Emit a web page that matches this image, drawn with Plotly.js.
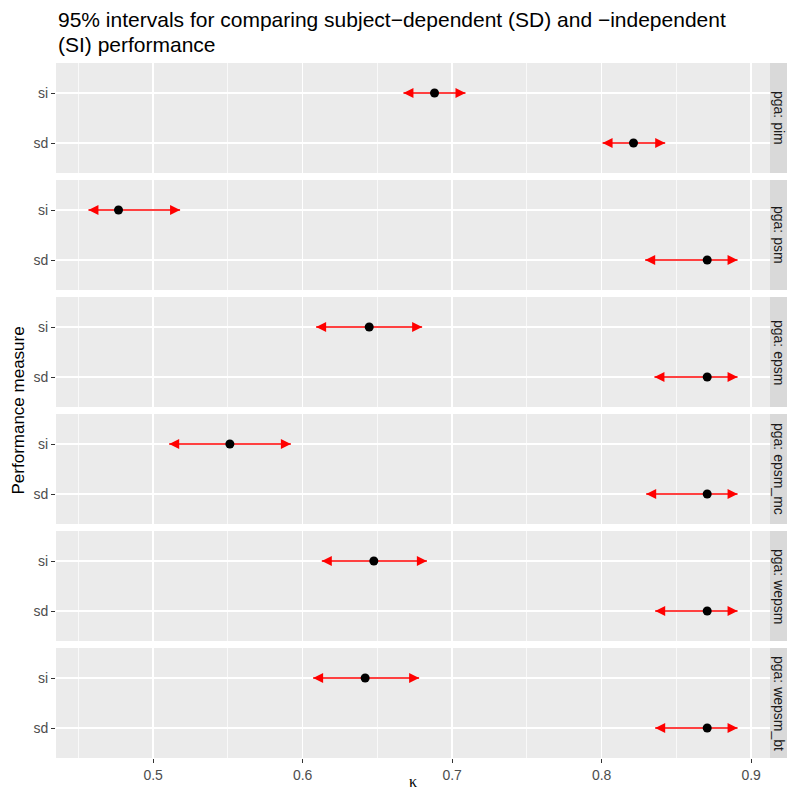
<!DOCTYPE html>
<html>
<head>
<meta charset="utf-8">
<script src="https://cdn.plot.ly/plotly-3.0.1.min.js"></script>
<style>html,body{margin:0;padding:0;background:#fff;}#chart{width:787px;height:793px;}</style>
</head>
<body>
<div id="chart"></div>
<script>
// ---- data ----
const panels = ['pim', 'psm', 'epsm', 'epsm_mc', 'wepsm', 'wepsm_bt'];
const measures = ['sd', 'si'];           // bottom to top within a panel
const siEst  = [0.6882, 0.4768, 0.6445, 0.5513, 0.6476, 0.6418];
const siLow  = [0.6674, 0.4567, 0.6090, 0.5107, 0.6128, 0.6070];
const siHigh = [0.7089, 0.5180, 0.6799, 0.5921, 0.6831, 0.6779];
const sdEst  = [0.8213, 0.8706, 0.8706, 0.8706, 0.8706, 0.8706];
const sdLow  = [0.8006, 0.8291, 0.8353, 0.8298, 0.8358, 0.8358];
const sdHigh = [0.8425, 0.8909, 0.8909, 0.8909, 0.8909, 0.8909];
const xTicks = [0.5, 0.6, 0.7, 0.8, 0.9];
const xTickLabels = ['0.5', '0.6', '0.7', '0.8', '0.9'];
const titleLines = ['95% intervals for comparing subject\u2212dependent (SD) and \u2212independent', '(SI) performance'];

// ---- layout constants ----
const W = 787, H = 793;
const M = {l: 56, r: 17, t: 63, b: 35};
const plotW = W - M.l - M.r, plotH = H - M.t - M.b;
const gap = 7;
const panelH = (plotH - gap * (panels.length - 1)) / panels.length;
const allLow = siLow.concat(sdLow), allHigh = siHigh.concat(sdHigh);
const dmin = Math.min(...allLow), dmax = Math.max(...allHigh);
const pad = (dmax - dmin) * 0.05;
const xRange = [dmin - pad, dmax + pad];
const FONT = 'Liberation Sans, Arial, sans-serif';

const traces = [];
const layout = {
  width: W, height: H,
  margin: M,
  paper_bgcolor: '#FFFFFF',
  plot_bgcolor: '#EBEBEB',
  showlegend: false,
  font: {family: FONT, color: '#4D4D4D', size: 14},
  shapes: [],
  annotations: []
};

panels.forEach((p, i) => {
  const n = i + 1;
  const xa = n === 1 ? 'x' : 'x' + n;
  const ya = n === 1 ? 'y' : 'y' + n;
  const xKey = n === 1 ? 'xaxis' : 'xaxis' + n;
  const yKey = n === 1 ? 'yaxis' : 'yaxis' + n;
  const top = plotH - i * (panelH + gap);
  const bot = top - panelH;
  const isBottom = i === panels.length - 1;

  layout[xKey] = {
    range: xRange, anchor: ya,
    tickvals: xTicks, ticktext: xTickLabels,
    showticklabels: isBottom,
    ticks: isBottom ? 'outside' : '', ticklen: 4, tickwidth: 1, tickcolor: '#333333',
    showgrid: true, gridcolor: '#FFFFFF', gridwidth: 1.4,
    minor: {dtick: 0.05, tick0: 0.45, showgrid: true, gridcolor: '#FFFFFF', gridwidth: 0.7, ticks: ''},
    zeroline: false, showline: false,
    tickfont: {size: 14, color: '#4D4D4D'},
    fixedrange: true
  };
  if (n !== 1) layout[xKey].matches = 'x';
  layout[yKey] = {
    domain: [bot / plotH, top / plotH],
    anchor: xa,
    type: 'category',
    categoryorder: 'array', categoryarray: measures,
    range: [-0.6, measures.length - 1 + 0.6],
    ticks: 'outside', ticklen: 4, tickwidth: 1, tickcolor: '#333333',
    showgrid: true, gridcolor: '#FFFFFF', gridwidth: 1.4,
    zeroline: false, showline: false,
    tickfont: {size: 14, color: '#4D4D4D'},
    fixedrange: true
  };

  // interval segments with arrow heads at both ends
  traces.push({
    type: 'scatter', mode: 'lines+markers', xaxis: xa, yaxis: ya,
    x: [siLow[i], siHigh[i], null, sdLow[i], sdHigh[i]],
    y: ['si', 'si', null, 'sd', 'sd'],
    line: {color: '#FF0000', width: 1.7},
    marker: {
      symbol: ['arrow-left', 'arrow-right', 'circle', 'arrow-left', 'arrow-right'],
      size: 10, color: '#FF0000', line: {width: 0}
    },
    hoverinfo: 'skip', cliponaxis: false
  });
  // point estimates
  traces.push({
    type: 'scatter', mode: 'markers', xaxis: xa, yaxis: ya,
    x: [siEst[i], sdEst[i]], y: ['si', 'sd'],
    marker: {symbol: 'circle', size: 9, color: '#000000'},
    hoverinfo: 'x+y'
  });

  // facet strip on the right
  layout.shapes.push({
    type: 'rect', xref: 'paper', yref: ya + ' domain',
    x0: 1, x1: 1 + (M.r + 2) / plotW, y0: 0, y1: 1,
    fillcolor: '#D9D9D9', line: {width: 0}, layer: 'below'
  });
  layout.annotations.push({
    xref: 'paper', yref: ya + ' domain',
    x: 1 + 9 / plotW, y: 0.5, xanchor: 'center', yanchor: 'middle',
    text: 'pga: ' + p, textangle: 90, showarrow: false,
    font: {size: 14, color: '#1A1A1A'}
  });
});

// title (two lines, ggplot-like tight spacing)
titleLines.forEach((t, k) => {
  layout.annotations.push({
    xref: 'paper', yref: 'paper', x: 0, y: 1 + (M.t - (20 + 24 * k)) / plotH,
    xanchor: 'left', yanchor: 'middle', showarrow: false, align: 'left',
    text: t, font: {size: 21, color: '#000000', family: FONT}
  });
});

// axis titles
layout.annotations.push({
  xref: 'paper', yref: 'paper', x: -38 / plotW, y: 0.5,
  xanchor: 'center', yanchor: 'middle', textangle: -90,
  text: 'Performance measure', showarrow: false,
  font: {size: 17, color: '#000000'}
});
layout.annotations.push({
  xref: 'paper', yref: 'paper', x: 0.5, y: -23 / plotH,
  xanchor: 'center', yanchor: 'middle',
  text: '\u03BA', showarrow: false,
  font: {size: 16, color: '#000000', family: 'Liberation Serif, DejaVu Serif, serif'}
});

Plotly.newPlot('chart', traces, layout, {displayModeBar: false, staticPlot: true});
</script>
</body>
</html>
